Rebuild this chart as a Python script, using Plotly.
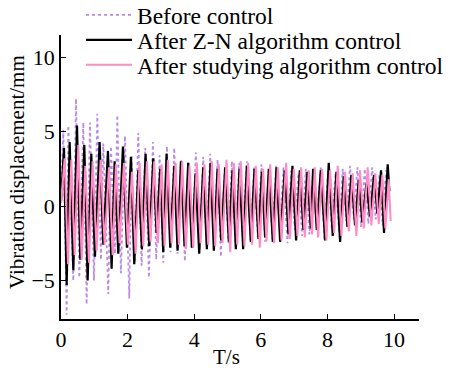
import plotly.graph_objects as go

# ---- data: turning points of each response (time in s, displacement in mm) ----
t_before = [0.00, 0.07, 0.17, 0.22, 0.37, 0.45, 0.55, 0.67, 0.77, 0.87,
            0.99, 1.09, 1.20, 1.27, 1.42, 1.50, 1.62, 1.69, 1.80, 1.92,
            2.05, 2.12, 2.22, 2.32, 2.42, 2.53, 2.64, 2.76, 2.86, 2.96,
            3.07, 3.18, 3.29, 3.40, 3.50, 3.61, 3.72, 3.83, 3.94, 4.05,
            4.16, 4.27, 4.37, 4.48, 4.60, 4.70, 4.80, 4.92, 5.03, 5.13,
            5.24, 5.35, 5.46, 5.58, 5.69, 5.80, 5.91, 6.02, 6.13, 6.24,
            6.35, 6.46, 6.57, 6.68, 6.80, 6.91, 7.02, 7.13, 7.24, 7.35,
            7.46, 7.57, 7.68, 7.80, 7.91, 8.02, 8.13, 8.24, 8.35, 8.46,
            8.57, 8.68, 8.79, 8.90, 9.01, 9.12, 9.23, 9.34, 9.45, 9.56,
            9.66, 9.76, 9.84]
y_before = [0.5, 5.1, -7.3, 5.4, -5.0, 7.2, -4.8, 5.6, -6.6, 5.6,
            -5.0, 6.2, -3.6, 4.2, -5.9, 4.0, -3.2, 6.1, -4.5, 4.7,
            -6.2, 3.4, -3.8, 4.9, -4.0, 3.9, -4.8, 4.3, -3.6, 3.4,
            -3.8, 4.0, -3.1, 3.9, -3.2, 3.1, -3.7, 2.9, -2.8, 3.6,
            -3.0, 3.3, -2.6, 3.5, -2.8, 3.1, -3.4, 2.6, -2.5, 3.0,
            -2.7, 2.9, -1.9, 3.0, -2.3, 2.6, -2.1, 2.8, -2.4, 2.5,
            -2.2, 2.7, -1.8, 2.6, -2.5, 2.4, -1.6, 2.2, -2.0, 2.5,
            -1.9, 2.3, -1.3, 2.6, -2.2, 2.4, -1.5, 2.2, -1.8, 2.5,
            -1.0, 2.7, -0.9, 2.6, -1.4, 2.5, -1.2, 2.6, -0.9, 2.1,
            -1.3, 2.4, 0.4]

t_zn = [0.00, 0.09, 0.17, 0.26, 0.37, 0.48, 0.58, 0.70, 0.80, 0.91,
        1.02, 1.16, 1.27, 1.41, 1.52, 1.61, 1.72, 1.86, 1.98, 2.10,
        2.20, 2.32, 2.43, 2.54, 2.65, 2.77, 2.87, 2.98, 3.07, 3.17,
        3.28, 3.40, 3.50, 3.60, 3.71, 3.82, 3.93, 4.04, 4.15, 4.27,
        4.38, 4.49, 4.59, 4.70, 4.81, 4.93, 5.04, 5.15, 5.25, 5.36,
        5.47, 5.58, 5.70, 5.81, 5.93, 6.03, 6.13, 6.24, 6.36, 6.47,
        6.58, 6.72, 6.83, 6.95, 7.06, 7.17, 7.28, 7.40, 7.50, 7.57,
        7.68, 7.80, 7.93, 8.04, 8.16, 8.27, 8.38, 8.49, 8.60, 8.72,
        8.83, 8.94, 9.05, 9.17, 9.28, 9.40, 9.50, 9.61, 9.70, 9.81,
        9.86]
y_zn = [0.3, 3.9, -5.3, 4.3, -4.3, 5.4, -3.6, 4.1, -5.0, 3.5,
        -3.4, 4.3, -2.6, 3.7, -4.2, 3.0, -3.2, 4.0, -2.8, 3.3,
        -3.9, 2.4, -2.9, 3.5, -2.7, 3.2, -1.8, 2.5, -3.1, 3.5,
        -2.8, 2.7, -3.0, 3.0, -2.7, 2.9, -2.8, 2.2, -3.2, 2.6,
        -2.9, 2.9, -3.0, 2.5, -2.3, 2.6, -2.4, 2.4, -2.9, 2.5,
        -2.9, 2.7, -2.4, 2.5, -2.2, 2.3, -2.1, 2.5, -2.4, 2.6,
        -2.4, 2.4, -1.9, 2.7, -2.3, 2.4, -1.6, 2.3, -1.5, 2.5,
        -1.6, 2.4, -2.3, 2.9, -2.0, 2.3, -2.4, 2.0, -1.4, 2.1,
        -1.3, 1.75, -1.1, 1.5, -0.7, 2.1, -0.5, 2.4, -1.8, 2.8,
        1.0]

t_study = [0.00, 0.11, 0.21, 0.31, 0.41, 0.52, 0.62, 0.73, 0.84, 0.95,
           1.07, 1.19, 1.31, 1.44, 1.55, 1.65, 1.76, 1.89, 2.01, 2.13,
           2.24, 2.36, 2.47, 2.58, 2.69, 2.80, 2.91, 3.02, 3.11, 3.21,
           3.32, 3.44, 3.54, 3.64, 3.75, 3.86, 3.97, 4.08, 4.19, 4.31,
           4.42, 4.53, 4.63, 4.74, 4.85, 4.97, 5.08, 5.19, 5.29, 5.40,
           5.51, 5.62, 5.74, 5.85, 5.97, 6.07, 6.17, 6.28, 6.40, 6.51,
           6.62, 6.76, 6.87, 6.99, 7.10, 7.21, 7.32, 7.44, 7.54, 7.62,
           7.72, 7.84, 7.97, 8.08, 8.20, 8.31, 8.42, 8.53, 8.64, 8.76,
           8.87, 8.98, 9.09, 9.21, 9.32, 9.44, 9.54, 9.65, 9.74, 9.84,
           9.90]
y_study = [0.2, 3.2, -3.9, 3.1, -3.3, 4.1, -3.6, 2.7, -3.8, 3.0,
           -3.0, 3.1, -2.6, 2.6, -3.3, 2.8, -2.5, 2.9, -2.6, 2.3,
           -3.2, 2.9, -2.7, 3.0, -2.4, 3.0, -2.5, 2.8, -2.7, 3.1,
           -2.5, 2.9, -2.6, 3.0, -2.9, 2.7, -2.8, 2.9, -2.5, 2.8,
           -2.6, 3.0, -2.7, 2.8, -2.5, 3.1, -3.1, 2.9, -2.6, 3.0,
           -2.7, 2.9, -2.6, 2.7, -2.8, 2.5, -2.4, 2.8, -2.5, 2.6,
           -2.3, 2.9, -2.2, 2.5, -2.0, 2.6, -2.1, 2.4, -1.9, 2.6,
           -2.1, 2.5, -2.3, 2.4, -1.8, 2.7, -2.0, 2.3, -1.7, 2.2,
           -2.0, 2.4, -1.5, 2.6, -1.3, 2.2, -1.2, 2.1, -1.5, 1.8,
           -1.0]

names = ["Before control", "After Z-N algorithm control", "After studying algorithm control"]
x_ticks = [0, 2, 4, 6, 8, 10]
y_ticks = [-5, 0, 5, 10]

FONT = "Liberation Serif"
W, H = 451, 371

fig = go.Figure()
fig.add_trace(go.Scatter(x=t_before, y=y_before, mode="lines", name=names[0],
                         legend="legend",
                         line=dict(color="#b98ae8", width=1.8, dash="dot")))
fig.add_trace(go.Scatter(x=t_zn, y=y_zn, mode="lines", name=names[1],
                         legend="legend2",
                         line=dict(color="#000000", width=2.2)))
fig.add_trace(go.Scatter(x=t_study, y=y_study, mode="lines", name=names[2],
                         legend="legend3",
                         line=dict(color="#ff8cc4", width=2.0)))


def leg(cy):
    return dict(xref="container", yref="container", x=81 / W, y=1 - cy / H,
                xanchor="left", yanchor="middle", bgcolor="rgba(0,0,0,0)",
                borderwidth=0, font=dict(family=FONT, size=23.5, color="black"),
                itemwidth=46)


fig.update_layout(
    width=W, height=H,
    margin=dict(l=61, r=32, t=35, b=52, autoexpand=False),
    paper_bgcolor="white", plot_bgcolor="white",
    font=dict(family=FONT, size=22, color="black"),
    showlegend=True,
    legend=leg(15), legend2=leg(40), legend3=leg(65),
    xaxis=dict(range=[0, 10.75], tickvals=x_ticks, ticks="inside", ticklen=5,
               tickwidth=1.2, tickcolor="black", showline=True, linecolor="black",
               linewidth=1.5, showgrid=False, zeroline=False,
               tickfont=dict(family=FONT, size=22)),
    yaxis=dict(range=[-7.58, 11.48], tickvals=y_ticks, ticks="inside", ticklen=5,
               tickwidth=1.2, tickcolor="black", showline=True, linecolor="black",
               linewidth=1.5, showgrid=False, zeroline=False,
               tickfont=dict(family=FONT, size=22)),
    annotations=[
        dict(text="T/s", xref="paper", yref="paper", x=(226 - 61) / 358,
             y=(319 - 357) / 284, xanchor="center", yanchor="middle",
             showarrow=False, font=dict(family=FONT, size=21)),
        dict(text="Vibration displacement/mm", xref="paper", yref="paper",
             x=(17 - 61) / 358, y=(319 - 172) / 284, xanchor="center",
             yanchor="middle", textangle=-90, showarrow=False,
             font=dict(family=FONT, size=21)),
    ],
)

fig.write_html("out.html")
